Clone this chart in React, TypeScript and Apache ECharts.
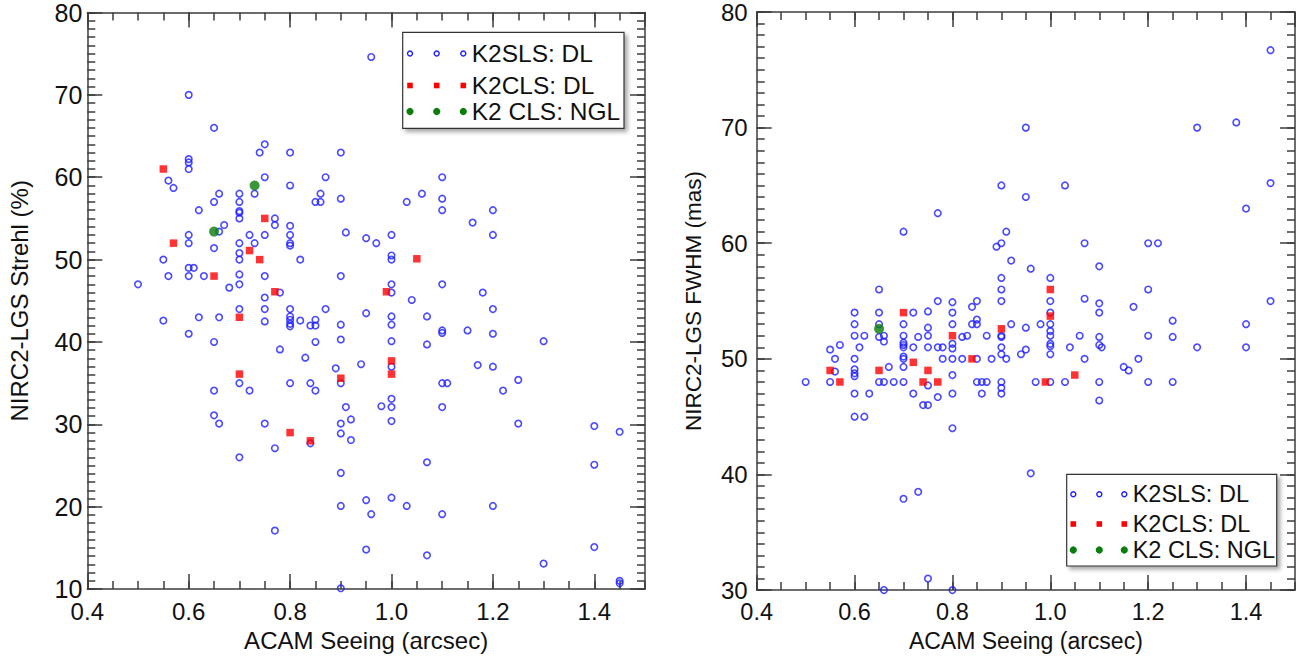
import React, { useEffect, useRef } from "react";
import * as echarts from "echarts";

// ---------- DATA ----------
// Left panel: NIRC2-LGS Strehl (%) vs ACAM seeing (arcsec)
const strehlK2SLS: number[][] = [
  [0.60, 70.0], [0.65, 66.0], [0.60, 62.2], [0.60, 61.8], [0.60, 61.0], [0.56, 59.6], [0.57, 58.7],
  [0.75, 64.0], [0.74, 63.0], [0.80, 63.0], [0.75, 60.0], [0.73, 58.0], [0.80, 59.0], [0.87, 60.0],
  [0.66, 58.0], [0.65, 57.0], [0.70, 58.0], [0.70, 57.0], [0.70, 55.9], [0.70, 55.7], [0.70, 55.0],
  [0.62, 56.0], [0.85, 57.0], [0.86, 58.0], [0.86, 57.0], [0.77, 55.0], [0.77, 54.2], [0.66, 53.4],
  [0.67, 54.2], [0.60, 53.0], [0.60, 52.0], [0.65, 51.4], [0.70, 52.0], [0.70, 50.8], [0.70, 50.0],
  [0.72, 53.0], [0.73, 52.0], [0.75, 53.0], [0.80, 54.1], [0.80, 53.0], [0.80, 52.0], [0.80, 51.7],
  [0.82, 50.0], [0.55, 50.0], [0.50, 47.0], [0.56, 48.0], [0.60, 48.0], [0.60, 49.0], [0.61, 49.0],
  [0.63, 48.0], [0.68, 46.6], [0.70, 48.2], [0.70, 47.0], [0.75, 48.0], [0.78, 46.0], [0.75, 45.4],
  [0.70, 44.0], [0.75, 44.0], [0.80, 44.0], [0.55, 42.6], [0.62, 43.0], [0.66, 43.0], [0.75, 42.5],
  [0.80, 43.1], [0.80, 42.7], [0.80, 42.2], [0.80, 41.9], [0.82, 42.6], [0.84, 42.0], [0.85, 42.7],
  [0.85, 42.0], [0.87, 44.0],
  [0.60, 41.0], [0.65, 40.0], [0.78, 39.1], [0.83, 38.1], [0.85, 40.0], [0.70, 35.0], [0.72, 34.1],
  [0.65, 34.1], [0.80, 35.0], [0.84, 35.0], [0.85, 34.1], [0.65, 31.1], [0.66, 30.1], [0.75, 30.1],
  [0.84, 27.7], [0.77, 27.1], [0.70, 26.0], [0.77, 17.1],
  [0.96, 74.6], [0.90, 63.0], [1.10, 60.0], [0.90, 57.4], [1.03, 57.0], [1.06, 58.0], [1.10, 57.4],
  [1.10, 56.0], [1.20, 56.0], [1.16, 54.5], [1.20, 53.0], [0.91, 53.3], [0.95, 52.6], [0.97, 52.0],
  [1.00, 53.0], [1.00, 50.5], [1.00, 50.0], [0.90, 48.0], [1.00, 47.0], [1.00, 46.0], [1.10, 47.0],
  [1.04, 45.1], [1.18, 46.0], [1.20, 44.0], [0.95, 43.5], [1.00, 43.1], [1.00, 42.1], [1.07, 43.1],
  [0.90, 42.1], [0.90, 40.3], [1.00, 40.1], [1.07, 39.7], [1.10, 41.4], [1.10, 41.1], [1.15, 41.4],
  [1.20, 41.0], [1.30, 40.1],
  [0.89, 36.8], [0.94, 37.3], [1.00, 37.0], [0.90, 35.0], [1.17, 37.2], [1.20, 37.0], [1.10, 35.0],
  [1.11, 35.0], [1.25, 35.4], [1.22, 34.1], [0.91, 32.1], [0.98, 32.2], [1.00, 32.1], [1.00, 33.1],
  [1.10, 32.1], [0.90, 30.1], [0.92, 30.6], [1.00, 30.4], [0.90, 28.9], [0.92, 28.1], [1.25, 30.1],
  [1.40, 29.8], [1.45, 29.1], [1.07, 25.4], [1.40, 25.1], [0.90, 24.1], [0.90, 20.1], [0.95, 20.8],
  [0.96, 19.1], [1.00, 21.1], [1.03, 20.1], [1.10, 19.1], [1.20, 20.1], [0.95, 14.8], [1.07, 14.1],
  [1.30, 13.1], [1.40, 15.1], [1.45, 11.0], [1.45, 10.7], [0.90, 10.1],
];
const strehlK2CLS: number[][] = [
  [0.55, 61.0], [0.57, 52.0], [0.65, 48.0], [0.70, 43.0], [0.70, 36.1], [0.72, 51.1], [0.74, 50.0],
  [0.75, 55.0], [0.77, 46.1], [0.80, 29.0], [0.84, 28.0], [0.90, 35.6], [0.99, 46.1], [1.00, 37.7],
  [1.00, 36.1], [1.05, 50.1],
];
const strehlNGL: number[][] = [[0.65, 53.4], [0.73, 59.0]];

// Right panel: NIRC2-LGS FWHM (mas) vs ACAM seeing (arcsec)
const fwhmK2SLS: number[][] = [
  [1.45, 76.7], [0.95, 70.0], [1.30, 70.0], [1.38, 70.45], [0.90, 65.0], [1.03, 65.0], [0.95, 64.0],
  [1.45, 65.2], [1.40, 63.0], [0.77, 62.6], [0.70, 61.0], [0.91, 61.0], [0.90, 60.0], [0.89, 59.7],
  [1.07, 60.0], [1.20, 60.0], [1.22, 60.0], [0.92, 58.5], [0.96, 57.8], [1.10, 58.0], [0.90, 57.0],
  [0.90, 56.0], [0.90, 55.0], [1.00, 57.0], [1.00, 55.0], [1.00, 54.0], [1.07, 55.2], [1.10, 54.8],
  [1.10, 54.0], [1.17, 54.5], [1.20, 56.0], [1.25, 53.3], [1.40, 53.0], [1.45, 55.0], [0.65, 56.0],
  [0.77, 55.0], [0.80, 54.9], [0.84, 54.5], [0.85, 55.0],
  [0.60, 54.0], [0.60, 53.0], [0.65, 54.0], [0.65, 53.0], [0.70, 53.0], [0.72, 54.0], [0.75, 54.1],
  [0.80, 54.0], [0.80, 53.0], [0.84, 53.0], [0.85, 53.0], [0.85, 53.4], [0.92, 53.0], [0.95, 52.7],
  [0.98, 53.0], [1.00, 53.0], [0.75, 52.7], [0.60, 52.0], [0.62, 52.0], [0.65, 51.9], [0.66, 52.0],
  [0.66, 51.5], [0.70, 52.0], [0.70, 51.4], [0.70, 51.2], [0.70, 51.0], [0.73, 51.9], [0.75, 52.0],
  [0.75, 51.0], [0.80, 51.3], [0.80, 50.9], [0.55, 50.8], [0.57, 51.2], [0.61, 51.0], [0.72, 51.0],
  [0.77, 51.0], [0.78, 51.0], [0.56, 50.0], [0.60, 50.0], [0.70, 50.2], [0.70, 50.0], [0.78, 50.0],
  [0.80, 50.0], [0.67, 49.3], [0.70, 49.3], [0.56, 48.9], [0.60, 49.1], [0.60, 48.75], [0.60, 48.5],
  [0.80, 48.6], [0.50, 48.0], [0.55, 48.0], [0.65, 48.0], [0.66, 48.0], [0.68, 48.0], [0.70, 48.0],
  [0.75, 47.7], [0.60, 47.0], [0.63, 47.0], [0.72, 47.0], [0.77, 46.7], [0.80, 47.0], [0.74, 46.0],
  [0.75, 46.0], [0.60, 45.0], [0.62, 45.0], [0.80, 44.0], [0.70, 37.9], [0.73, 38.5], [0.75, 31.0],
  [0.66, 30.0], [0.80, 30.0],
  [0.90, 52.0], [0.90, 51.9], [0.82, 51.9], [0.83, 52.0], [0.87, 52.0], [1.00, 52.4], [1.00, 52.0],
  [1.00, 51.3], [1.00, 51.1], [1.00, 50.4], [0.95, 50.8], [0.94, 50.4], [0.90, 51.0], [0.90, 50.4],
  [0.91, 50.0], [1.04, 51.0], [1.06, 52.0], [1.10, 51.9], [1.10, 51.2], [1.105, 51.0], [1.20, 52.0],
  [0.82, 50.0], [0.85, 50.0], [0.88, 50.0], [1.07, 50.0], [1.18, 50.0], [1.15, 49.3], [1.16, 49.0],
  [0.85, 48.0], [0.86, 48.0], [0.87, 48.0], [0.90, 48.0], [0.90, 47.5], [0.90, 47.0], [0.97, 48.0],
  [1.00, 48.0], [1.03, 48.0], [1.10, 48.0], [1.20, 48.0], [0.86, 47.0], [1.10, 46.4],
  [1.25, 51.9], [1.30, 51.0], [1.40, 51.0], [1.25, 48.0], [0.96, 40.1],
];
const fwhmK2CLS: number[][] = [
  [0.70, 54.0], [0.55, 49.0], [0.57, 48.0], [0.65, 49.0], [0.72, 49.7], [0.74, 48.0], [0.75, 49.0],
  [0.77, 48.0], [0.80, 52.0], [0.84, 50.0], [0.90, 52.6], [0.99, 48.0], [1.00, 53.7], [1.00, 56.0],
  [1.05, 48.6],
];
const fwhmNGL: number[][] = [[0.65, 52.6]];

const seriesNames = ["K2SLS: DL", "K2CLS: DL", "K2 CLS: NGL"];
const xTitle = "ACAM Seeing (arcsec)";
const yTitleLeft = "NIRC2-LGS Strehl (%)";
const yTitleRight = "NIRC2-LGS FWHM (mas)";

// ---------- STYLE ----------
const FONT = "'Liberation Sans', Arial, Helvetica, sans-serif";
const AXIS_COLOR = "#3c3c3c";
const TEXT_COLOR = "#111111";
const BLUE = "#1c1cff";
const RED = "#ff0000";
const GREEN = "#0a7d0a";
const lineStyle = { color: AXIS_COLOR, width: 1.5 };

function xAxesFor(gridIndex: number, labelSize: number, nameSize: number, nameGap: number) {
  const common = { gridIndex, type: "value", min: 0.4, max: 1.5, splitLine: { show: false } };
  return [
    {
      ...common, position: "bottom", interval: 0.2,
      axisLine: { show: true, onZero: false, lineStyle },
      axisTick: { show: true, inside: true, length: 15, lineStyle },
      axisLabel: {
        show: true, margin: 10, fontSize: labelSize, color: TEXT_COLOR, fontFamily: FONT,
        showMaxLabel: false, formatter: (v: number) => v.toFixed(1),
      },
      name: xTitle, nameLocation: "middle", nameGap,
      nameTextStyle: { fontSize: nameSize, color: TEXT_COLOR, fontFamily: FONT },
    },
    {
      ...common, position: "bottom", interval: 0.05,
      axisLine: { show: false, onZero: false },
      axisTick: { show: true, inside: true, length: 8, lineStyle },
      axisLabel: { show: false },
    },
    {
      ...common, position: "top", interval: 0.2,
      axisLine: { show: true, onZero: false, lineStyle },
      axisTick: { show: true, inside: true, length: 15, lineStyle },
      axisLabel: { show: false },
    },
    {
      ...common, position: "top", interval: 0.05,
      axisLine: { show: false, onZero: false },
      axisTick: { show: true, inside: true, length: 8, lineStyle },
      axisLabel: { show: false },
    },
  ];
}

function yAxesFor(gridIndex: number, min: number, name: string, labelSize: number, labelMargin: number, nameSize: number, nameGap: number) {
  const common = { gridIndex, type: "value", min, max: 80, splitLine: { show: false } };
  return [
    {
      ...common, position: "left", interval: 10,
      axisLine: { show: true, onZero: false, lineStyle },
      axisTick: { show: true, inside: true, length: 15, lineStyle },
      axisLabel: {
        show: true, margin: labelMargin, fontSize: labelSize, color: TEXT_COLOR, fontFamily: FONT,
        lineHeight: 16, padding: [4, 0, 0, 0],
      },
      name, nameLocation: "middle", nameGap,
      nameTextStyle: { fontSize: nameSize, color: TEXT_COLOR, fontFamily: FONT },
    },
    {
      ...common, position: "left", interval: 1,
      axisLine: { show: false, onZero: false },
      axisTick: { show: true, inside: true, length: 8, lineStyle },
      axisLabel: { show: false },
    },
    {
      ...common, position: "right", interval: 10,
      axisLine: { show: true, onZero: false, lineStyle },
      axisTick: { show: true, inside: true, length: 15, lineStyle },
      axisLabel: { show: false },
    },
    {
      ...common, position: "right", interval: 1,
      axisLine: { show: false, onZero: false },
      axisTick: { show: true, inside: true, length: 8, lineStyle },
      axisLabel: { show: false },
    },
  ];
}

function scatterSeries(xIdx: number, yIdx: number, sls: number[][], cls: number[][], ngl: number[][]) {
  return [
    {
      type: "scatter", name: seriesNames[0], xAxisIndex: xIdx, yAxisIndex: yIdx, data: sls,
      symbol: "circle", symbolSize: 6.5, silent: true,
      itemStyle: { color: "rgba(0,0,0,0)", borderColor: BLUE, borderWidth: 1.6 },
    },
    {
      type: "scatter", name: seriesNames[1], xAxisIndex: xIdx, yAxisIndex: yIdx, data: cls,
      symbol: "rect", symbolSize: 7.5, silent: true, itemStyle: { color: RED },
    },
    {
      type: "scatter", name: seriesNames[2], xAxisIndex: xIdx, yAxisIndex: yIdx, data: ngl,
      symbol: "circle", symbolSize: 10, silent: true, itemStyle: { color: GREEN },
    },
  ];
}

function legendGraphic(bx: number, by: number, bw: number, bh: number, symX: number[], rowY: number[], textX: number, fontSize: number) {
  const children: any[] = [
    {
      type: "rect", shape: { x: bx, y: by, width: bw, height: bh },
      style: { fill: "#ffffff", stroke: "#333333", lineWidth: 1.2, shadowColor: "rgba(0,0,0,0.35)", shadowBlur: 4, shadowOffsetX: 3, shadowOffsetY: 3 },
    },
  ];
  symX.forEach((sx) => {
    children.push({ type: "circle", shape: { cx: sx, cy: rowY[0], r: 2.5 }, style: { fill: "none", stroke: BLUE, lineWidth: 1.4 } });
    children.push({ type: "rect", shape: { x: sx - 2.8, y: rowY[1] - 2.8, width: 5.6, height: 5.6 }, style: { fill: RED } });
    children.push({ type: "circle", shape: { cx: sx, cy: rowY[2], r: 3.6 }, style: { fill: GREEN } });
  });
  seriesNames.forEach((n, i) => {
    children.push({
      type: "text", x: textX, y: rowY[i],
      style: { text: n, fontSize, fontFamily: FONT, fill: TEXT_COLOR, align: "left", verticalAlign: "middle" },
    });
  });
  return { type: "group", children };
}

export default function App() {
  const ref = useRef<HTMLDivElement>(null);
  useEffect(() => {
    if (!ref.current) return;
    const chart = echarts.init(ref.current, undefined, { renderer: "svg" });
    const option: any = {
      animation: false,
      backgroundColor: "#ffffff",
      textStyle: { fontFamily: FONT },
      grid: [
        { left: 87.3, top: 11, width: 557.7, height: 583 },
        { left: 756.7, top: 9.3, width: 538.3, height: 584 },
      ],
      xAxis: [...xAxesFor(0, 24, 24, 34), ...xAxesFor(1, 23.5, 23, 34)],
      yAxis: [
        ...yAxesFor(0, 10, yTitleLeft, 25, 5, 24, 56),
        ...yAxesFor(1, 30, yTitleRight, 24, 9, 22.5, 52),
      ],
      series: [
        ...scatterSeries(0, 0, strehlK2SLS, strehlK2CLS, strehlNGL),
        ...scatterSeries(4, 4, fwhmK2SLS, fwhmK2CLS, fwhmNGL),
      ],
      graphic: [
        legendGraphic(402.7, 32.3, 221.3, 96, [410, 436.7, 463.3], [53.5, 85.5, 111.5], 471.7, 24.5),
        legendGraphic(1066.7, 474.3, 210, 91.7, [1073.3, 1099.3, 1124.3], [494.3, 524, 550], 1132.7, 23.5),
      ],
    };
    chart.setOption(option);
    return () => chart.dispose();
  }, []);
  return (
    <div
      ref={ref}
      style={{ position: "fixed", left: 0, top: 0, width: 1301, height: 657, background: "#ffffff" }}
    />
  );
}
